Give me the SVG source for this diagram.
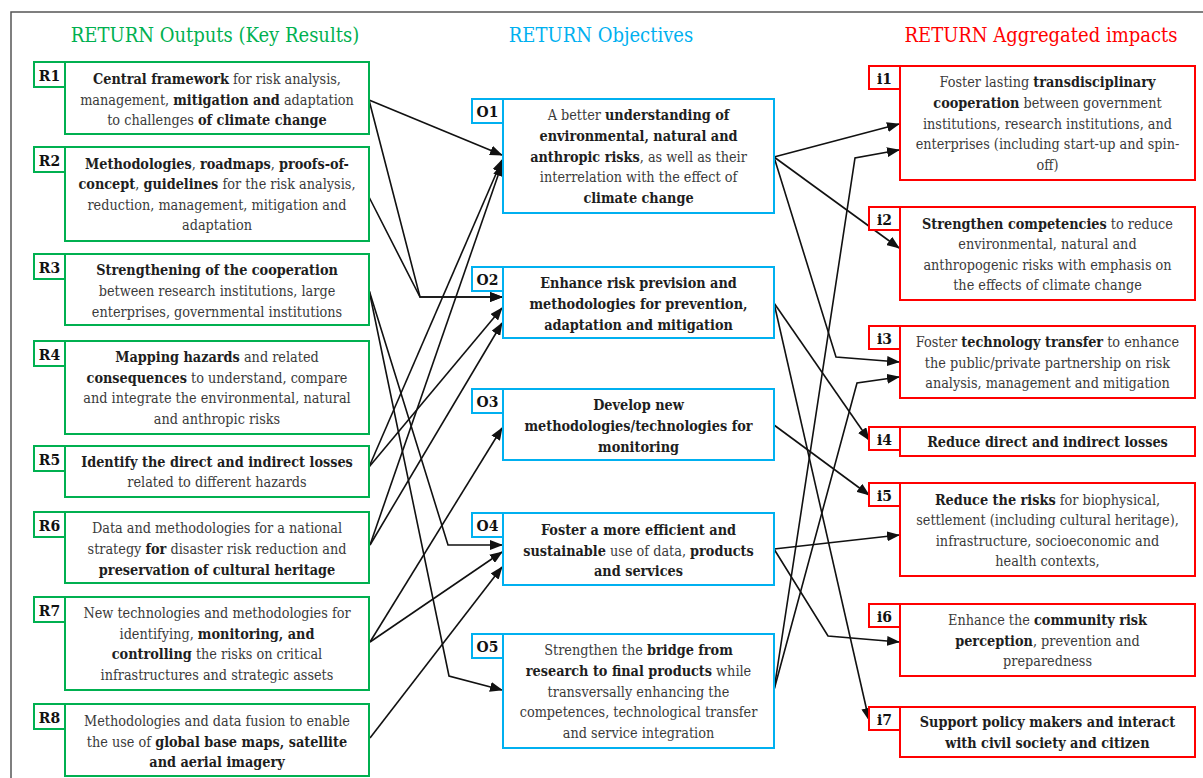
<svg xmlns="http://www.w3.org/2000/svg" width="1203" height="778" viewBox="0 0 1203 778" font-family="DejaVu Serif Condensed, DejaVu Serif, serif">
<style>
.t{font-size:14.3px;fill:#3a3a3a;text-anchor:middle}
.b{font-weight:bold;fill:#1e1e1e}
.lbl{font-size:15.5px;font-weight:bold;fill:#111;text-anchor:middle}
.h{font-size:20px;text-anchor:middle}
.g{fill:#fff;stroke:#00b050;stroke-width:2}
.o{fill:#fff;stroke:#00b0f0;stroke-width:2}
.r{fill:#fff;stroke:#ff0000;stroke-width:2}
.c{fill:none;stroke:#111;stroke-width:1.6;marker-end:url(#ah)}
</style>
<defs>
<marker id="ah" markerUnits="userSpaceOnUse" markerWidth="13" markerHeight="10" refX="12" refY="5" orient="auto">
<path d="M0,0 L13,5 L0,10 z" fill="#111"/>
</marker>
</defs>
<rect x="0" y="0" width="1203" height="778" fill="#fff"/>
<rect x="11" y="12" width="1250" height="800" fill="none" stroke="#555" stroke-width="1.5"/>

<text class="h" x="215" y="42" fill="#00b050">RETURN Outputs (Key Results)</text>
<text class="h" x="601" y="42" fill="#00b0f0">RETURN Objectives</text>
<text class="h" x="1041" y="42" fill="#ff0000">RETURN Aggregated impacts</text>

<g id="connectors">
<path class="c" d="M369,100 L502,155"/>
<path class="c" d="M369,100 L420,297 L502,297"/>
<path class="c" d="M369,197 L420,297 L502,297"/>
<path class="c" d="M369,290 L448,545 L502,545"/>
<path class="c" d="M369,290 L449,676 L502,690"/>
<path class="c" d="M369,467 L502,160"/>
<path class="c" d="M369,467 L502,308"/>
<path class="c" d="M370,545 L502,164"/>
<path class="c" d="M370,545 L502,323"/>
<path class="c" d="M370,642 L502,428"/>
<path class="c" d="M370,642 L502,552"/>
<path class="c" d="M370,738 L502,567"/>
<path class="c" d="M774,157 L899,124"/>
<path class="c" d="M774,157 L899,248"/>
<path class="c" d="M774,157 L836,357 L899,362"/>
<path class="c" d="M774,303 L869,440"/>
<path class="c" d="M774,303 L869,720"/>
<path class="c" d="M774,425 L869,495"/>
<path class="c" d="M774,549 L899,535"/>
<path class="c" d="M774,549 L828,636 L899,642"/>
<path class="c" d="M774,690 L855,158 L899,150"/>
<path class="c" d="M774,690 L857,383 L899,377"/>
</g>

<g id="R1">
<rect class="g" x="65" y="62" width="304" height="72"/>
<rect class="g" x="34" y="62" width="31" height="25"/>
<text class="lbl" x="49.5" y="81">R1</text>
<text class="t" x="217" y="83.9"><tspan class="b">Central framework</tspan> for risk analysis,</text>
<text class="t" x="217" y="104.5">management, <tspan class="b">mitigation and</tspan> adaptation</text>
<text class="t" x="217" y="125.1">to challenges <tspan class="b">of climate change</tspan></text>
</g>
<g id="R2">
<rect class="g" x="65" y="147" width="304" height="94"/>
<rect class="g" x="34" y="147" width="31" height="25"/>
<text class="lbl" x="49.5" y="166">R2</text>
<text class="t" x="217" y="168.6"><tspan class="b">Methodologies</tspan>, <tspan class="b">roadmaps</tspan>, <tspan class="b">proofs-of-</tspan></text>
<text class="t" x="217" y="189.2"><tspan class="b">concept</tspan>, <tspan class="b">guidelines</tspan> for the risk analysis,</text>
<text class="t" x="217" y="209.8">reduction, management, mitigation and</text>
<text class="t" x="217" y="230.4">adaptation</text>
</g>
<g id="R3">
<rect class="g" x="65" y="254" width="304" height="71"/>
<rect class="g" x="34" y="254" width="31" height="25"/>
<text class="lbl" x="49.5" y="273">R3</text>
<text class="t" x="217" y="275.4"><tspan class="b">Strengthening of the cooperation</tspan></text>
<text class="t" x="217" y="296">between research institutions, large</text>
<text class="t" x="217" y="316.6">enterprises, governmental institutions</text>
</g>
<g id="R4">
<rect class="g" x="65" y="341" width="304" height="93"/>
<rect class="g" x="34" y="341" width="31" height="25"/>
<text class="lbl" x="49.5" y="360">R4</text>
<text class="t" x="217" y="362.1"><tspan class="b">Mapping hazards</tspan> and related</text>
<text class="t" x="217" y="382.7"><tspan class="b">consequences</tspan> to understand, compare</text>
<text class="t" x="217" y="403.3">and integrate the environmental, natural</text>
<text class="t" x="217" y="423.9">and anthropic risks</text>
</g>
<g id="R5">
<rect class="g" x="65" y="446" width="304" height="51"/>
<rect class="g" x="34" y="446" width="31" height="25"/>
<text class="lbl" x="49.5" y="465">R5</text>
<text class="t" x="217" y="466.7"><tspan class="b">Identify the direct and indirect losses</tspan></text>
<text class="t" x="217" y="487.3">related to different hazards</text>
</g>
<g id="R6">
<rect class="g" x="65" y="512" width="304" height="71"/>
<rect class="g" x="34" y="512" width="31" height="25"/>
<text class="lbl" x="49.5" y="531">R6</text>
<text class="t" x="217" y="533.4">Data and methodologies for a national</text>
<text class="t" x="217" y="554">strategy <tspan class="b">for</tspan> disaster risk reduction and</text>
<text class="t" x="217" y="574.6"><tspan class="b">preservation of cultural heritage</tspan></text>
</g>
<g id="R7">
<rect class="g" x="65" y="597" width="304" height="93"/>
<rect class="g" x="34" y="597" width="31" height="25"/>
<text class="lbl" x="49.5" y="616">R7</text>
<text class="t" x="217" y="618.1">New technologies and methodologies for</text>
<text class="t" x="217" y="638.7">identifying, <tspan class="b">monitoring, and</tspan></text>
<text class="t" x="217" y="659.3"><tspan class="b">controlling</tspan> the risks on critical</text>
<text class="t" x="217" y="679.9">infrastructures and strategic assets</text>
</g>
<g id="R8">
<rect class="g" x="65" y="704" width="304" height="72"/>
<rect class="g" x="34" y="704" width="31" height="25"/>
<text class="lbl" x="49.5" y="723">R8</text>
<text class="t" x="217" y="725.9">Methodologies and data fusion to enable</text>
<text class="t" x="217" y="746.5">the use of <tspan class="b">global base maps, satellite</tspan></text>
<text class="t" x="217" y="767.1"><tspan class="b">and aerial imagery</tspan></text>
</g>

<g id="O1">
<rect class="o" x="503" y="99" width="271" height="114"/>
<rect class="o" x="472" y="99" width="31" height="24"/>
<text class="lbl" x="487.5" y="117">O1</text>
<text class="t" x="638.5" y="120.3">A better <tspan class="b">understanding of</tspan></text>
<text class="t" x="638.5" y="140.9"><tspan class="b">environmental, natural and</tspan></text>
<text class="t" x="638.5" y="161.5"><tspan class="b">anthropic risks</tspan>, as well as their</text>
<text class="t" x="638.5" y="182.1">interrelation with the effect of</text>
<text class="t" x="638.5" y="202.7"><tspan class="b">climate change</tspan></text>
</g>
<g id="O2">
<rect class="o" x="503" y="267" width="271" height="71"/>
<rect class="o" x="472" y="267" width="31" height="24"/>
<text class="lbl" x="487.5" y="285">O2</text>
<text class="t" x="638.5" y="288.4"><tspan class="b">Enhance risk prevision and</tspan></text>
<text class="t" x="638.5" y="309"><tspan class="b">methodologies for prevention,</tspan></text>
<text class="t" x="638.5" y="329.6"><tspan class="b">adaptation and mitigation</tspan></text>
</g>
<g id="O3">
<rect class="o" x="503" y="389" width="271" height="71"/>
<rect class="o" x="472" y="389" width="31" height="24"/>
<text class="lbl" x="487.5" y="407">O3</text>
<text class="t" x="638.5" y="410.4"><tspan class="b">Develop new</tspan></text>
<text class="t" x="638.5" y="431"><tspan class="b">methodologies/technologies for</tspan></text>
<text class="t" x="638.5" y="451.6"><tspan class="b">monitoring</tspan></text>
</g>
<g id="O4">
<rect class="o" x="503" y="513" width="271" height="72"/>
<rect class="o" x="472" y="513" width="31" height="24"/>
<text class="lbl" x="487.5" y="531">O4</text>
<text class="t" x="638.5" y="534.9"><tspan class="b">Foster a more efficient and</tspan></text>
<text class="t" x="638.5" y="555.5"><tspan class="b">sustainable</tspan> use of data, <tspan class="b">products</tspan></text>
<text class="t" x="638.5" y="576.1"><tspan class="b">and services</tspan></text>
</g>
<g id="O5">
<rect class="o" x="503" y="634" width="271" height="114"/>
<rect class="o" x="472" y="634" width="31" height="24"/>
<text class="lbl" x="487.5" y="652">O5</text>
<text class="t" x="638.5" y="655.3">Strengthen the <tspan class="b">bridge from</tspan></text>
<text class="t" x="638.5" y="675.9"><tspan class="b">research to final products</tspan> while</text>
<text class="t" x="638.5" y="696.5">transversally enhancing the</text>
<text class="t" x="638.5" y="717.1">competences, technological transfer</text>
<text class="t" x="638.5" y="737.7">and service integration</text>
</g>

<g id="i1">
<rect class="r" x="900" y="66" width="295" height="114"/>
<rect class="r" x="869" y="66" width="31" height="23"/>
<text class="lbl" x="884.5" y="84">i1</text>
<text class="t" x="1047.5" y="87.3">Foster lasting <tspan class="b">transdisciplinary</tspan></text>
<text class="t" x="1047.5" y="107.9"><tspan class="b">cooperation</tspan> between government</text>
<text class="t" x="1047.5" y="128.5">institutions, research institutions, and</text>
<text class="t" x="1047.5" y="149.1">enterprises (including start-up and spin-</text>
<text class="t" x="1047.5" y="169.7">off)</text>
</g>
<g id="i2">
<rect class="r" x="900" y="207" width="295" height="93"/>
<rect class="r" x="869" y="207" width="31" height="23"/>
<text class="lbl" x="884.5" y="225">i2</text>
<text class="t" x="1047.5" y="228.6"><tspan class="b">Strengthen competencies</tspan> to reduce</text>
<text class="t" x="1047.5" y="249.2">environmental, natural and</text>
<text class="t" x="1047.5" y="269.8">anthropogenic risks with emphasis on</text>
<text class="t" x="1047.5" y="290.4">the effects of climate change</text>
</g>
<g id="i3">
<rect class="r" x="900" y="326" width="295" height="72"/>
<rect class="r" x="869" y="326" width="31" height="23"/>
<text class="lbl" x="884.5" y="344">i3</text>
<text class="t" x="1047.5" y="346.9">Foster <tspan class="b">technology transfer</tspan> to enhance</text>
<text class="t" x="1047.5" y="367.5">the public/private partnership on risk</text>
<text class="t" x="1047.5" y="388.1">analysis, management and mitigation</text>
</g>
<g id="i4">
<rect class="r" x="900" y="427" width="295" height="29"/>
<rect class="r" x="869" y="427" width="31" height="23"/>
<text class="lbl" x="884.5" y="445">i4</text>
<text class="t" x="1047.5" y="447"><tspan class="b">Reduce direct and indirect losses</tspan></text>
</g>
<g id="i5">
<rect class="r" x="900" y="483" width="295" height="93"/>
<rect class="r" x="869" y="483" width="31" height="23"/>
<text class="lbl" x="884.5" y="501">i5</text>
<text class="t" x="1047.5" y="504.6"><tspan class="b">Reduce the risks</tspan> for biophysical,</text>
<text class="t" x="1047.5" y="525.2">settlement (including cultural heritage),</text>
<text class="t" x="1047.5" y="545.8">infrastructure, socioeconomic and</text>
<text class="t" x="1047.5" y="566.4">health contexts,</text>
</g>
<g id="i6">
<rect class="r" x="900" y="604" width="295" height="72"/>
<rect class="r" x="869" y="604" width="31" height="23"/>
<text class="lbl" x="884.5" y="622">i6</text>
<text class="t" x="1047.5" y="624.9">Enhance the <tspan class="b">community risk</tspan></text>
<text class="t" x="1047.5" y="645.5"><tspan class="b">perception</tspan>, prevention and</text>
<text class="t" x="1047.5" y="666.1">preparedness</text>
</g>
<g id="i7">
<rect class="r" x="900" y="707" width="295" height="50"/>
<rect class="r" x="869" y="707" width="31" height="23"/>
<text class="lbl" x="884.5" y="725">i7</text>
<text class="t" x="1047.5" y="727.2"><tspan class="b">Support policy makers and interact</tspan></text>
<text class="t" x="1047.5" y="747.8"><tspan class="b">with civil society and citizen</tspan></text>
</g>
</svg>
